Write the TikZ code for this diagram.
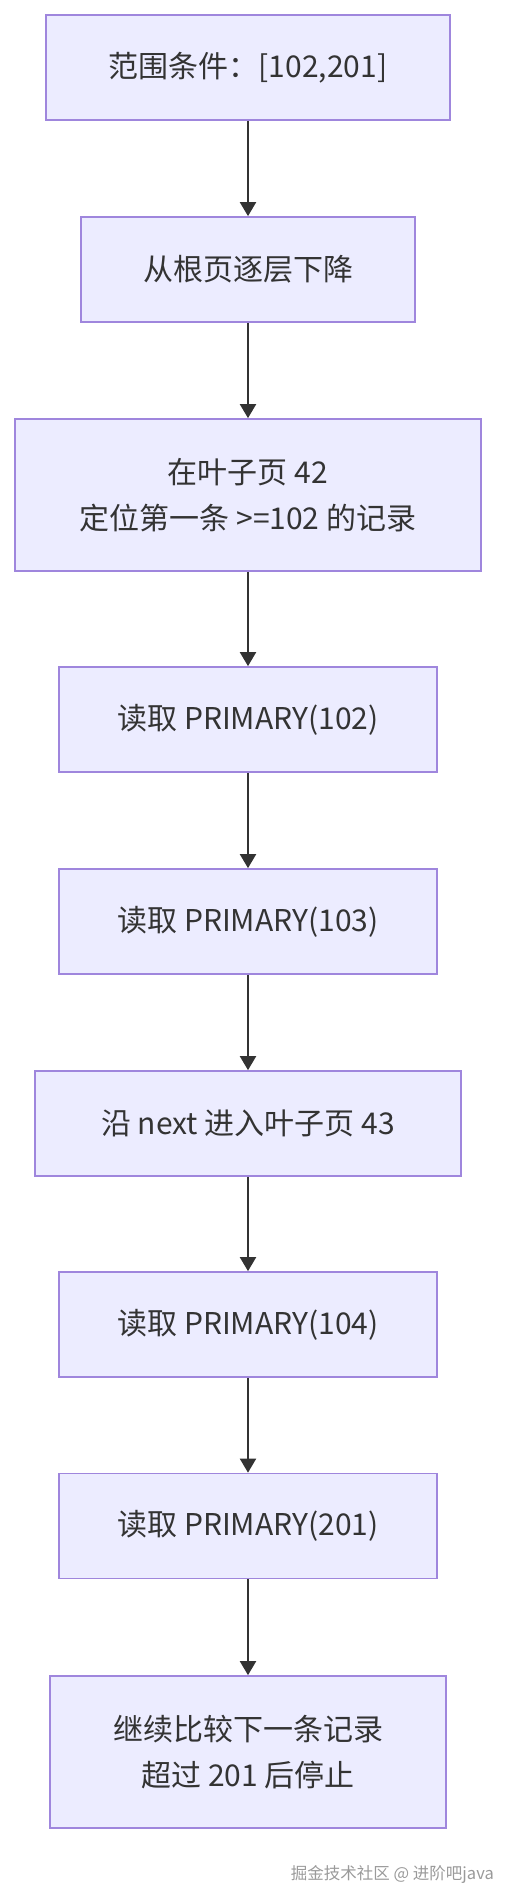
\documentclass[tikz,border=0pt]{standalone}
\usepackage{fontspec}
\setmainfont{Noto Sans CJK SC}
\usetikzlibrary{arrows.meta}
\definecolor{boxfill}{HTML}{ECECFF}
\definecolor{boxline}{HTML}{9F86DD}
\definecolor{arrowc}{HTML}{333333}
\definecolor{wm}{HTML}{9A9A9A}
\begin{document}
\begin{tikzpicture}[x=1pt,y=-1pt,
  flowbox/.style={draw=boxline,fill=boxfill,line width=1.7pt,minimum height=105pt,inner sep=0pt,
    font=\fontsize{30}{46}\selectfont,text=arrowc,align=center},
  flowarrow/.style={draw=arrowc,line width=2pt,-{Triangle[length=14pt,width=16pt]}}]
\useasboundingbox (0,0) rectangle (512,1900);
\node[flowbox,minimum width=404pt] (n1) at (248,67.5) {范围条件：[102,201]};
\node[flowbox,minimum width=334pt] (n2) at (248,269.5) {从根页逐层下降};
\node[flowbox,minimum width=466pt,minimum height=152pt] (n3) at (248,495) {在叶子页 42\\定位第一条 >=102 的记录};
\node[flowbox,minimum width=378pt] (n4) at (248,719.5) {读取 PRIMARY(102)};
\node[flowbox,minimum width=378pt] (n5) at (248,921.5) {读取 PRIMARY(103)};
\node[flowbox,minimum width=426pt] (n6) at (248,1123.5) {沿 next 进入叶子页 43};
\node[flowbox,minimum width=378pt] (n7) at (248,1324.5) {读取 PRIMARY(104)};
\node[flowbox,minimum width=378pt] (n8) at (248,1526) {读取 PRIMARY(201)};
\node[flowbox,minimum width=396pt,minimum height=152pt] (n9) at (248,1752) {继续比较下一条记录\\超过 201 后停止};
\foreach \a/\b in {n1/n2,n2/n3,n3/n4,n4/n5,n5/n6,n6/n7,n7/n8,n8/n9}
  \draw[flowarrow] (\a.south) -- (\b.north);
\node[anchor=east,inner sep=0pt,text=wm,font=\fontsize{16.5}{18}\selectfont] (wmk) at (494,1874) {掘金技术社区 @ 进阶吧java};
\end{tikzpicture}
\end{document}
